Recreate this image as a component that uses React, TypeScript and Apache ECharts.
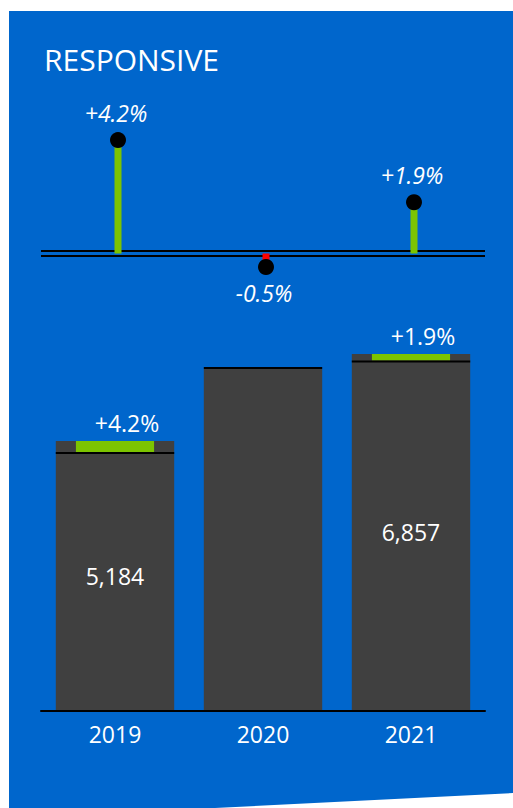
import React, { useEffect, useRef } from "react";
import * as echarts from "echarts";

const categories = ["2019", "2020", "2021"];
const actualValues = [5184, 6570, 6857];
const referenceValues = [4975, 6605, 6729];
const deltaPercents = [4.2, -0.5, 1.9];
const valueLabelShown = [true, false, true];
const deltaLabelShown = [true, false, true];

const BLUE = "#0066CC";
const GRAY = "#404040";
const GREEN = "#7CC400";
const RED = "#FF0000";
const DARK_RED = "#B00000";
const FONT = "'Open Sans', 'Noto Sans', sans-serif";

const fmtPct = (v: number) => (v > 0 ? "+" : "") + v.toFixed(1) + "%";

export default function App() {
  const ref = useRef<HTMLDivElement>(null);

  useEffect(() => {
    if (!ref.current) return;
    const chart = echarts.init(ref.current, null, { renderer: "svg" });

    const option: any = {
      animation: false,
      backgroundColor: "transparent",
      graphic: [
        {
          type: "polygon",
          z: -1,
          silent: true,
          shape: {
            points: [
              [9, 11],
              [513, 11],
              [513, 793],
              [215, 808],
              [9, 808],
            ],
          },
          style: { fill: BLUE },
        },
        {
          type: "text",
          x: 44,
          y: 59,
          z: 5,
          style: {
            text: "RESPONSIVE",
            fill: "#fff",
            fontSize: 30,
            fontFamily: FONT,
            verticalAlign: "middle",
          },
        },
      ],
      grid: [
        { left: 41, width: 444, top: 118.5, height: 189 },
        { left: 41, width: 444, top: 346.5, height: 364.5 },
      ],
      xAxis: [
        { gridIndex: 0, type: "category", data: categories, show: false },
        {
          gridIndex: 1,
          type: "category",
          data: categories,
          axisLine: { lineStyle: { color: "#000", width: 2 } },
          axisTick: { show: false },
          axisLabel: { color: "#fff", fontSize: 23, fontFamily: FONT, margin: 11 },
          z: 5,
        },
      ],
      yAxis: [
        { gridIndex: 0, type: "value", min: -2, max: 5, show: false },
        { gridIndex: 1, type: "value", min: 0, max: 7000, show: false },
      ],
      series: [
        {
          type: "line",
          xAxisIndex: 0,
          yAxisIndex: 0,
          data: [],
          z: 1,
          silent: true,
          markLine: {
            z: 1,
            silent: true,
            symbol: ["none", "none"],
            label: { show: false },
            data: [
              { yAxis: 0, lineStyle: { color: "#000", width: 7, type: "solid" } },
              { yAxis: 0, lineStyle: { color: BLUE, width: 3, type: "solid" } },
            ],
          },
        },
        {
          type: "custom",
          xAxisIndex: 0,
          yAxisIndex: 0,
          z: 6,
          clip: false,
          data: deltaPercents.map((v, i) => [i, v]),
          renderItem: (params: any, api: any) => {
            const i = api.value(0);
            const v = api.value(1);
            const pt = api.coord([i, v]);
            const zero = api.coord([i, 0]);
            const shift = 3;
            const top = Math.min(pt[1], zero[1]);
            const h = Math.abs(pt[1] - zero[1]);
            return {
              type: "group",
              children: [
                {
                  type: "rect",
                  shape: { x: pt[0] + shift - 3.5, y: top, width: 7, height: h },
                  style: { fill: v >= 0 ? GREEN : RED },
                },
                {
                  type: "circle",
                  shape: { cx: pt[0] + shift, cy: pt[1], r: 8 },
                  style: { fill: "#000" },
                },
                {
                  type: "text",
                  x: pt[0] + 1,
                  y: pt[1] + (v >= 0 ? -27 : 26),
                  style: {
                    text: fmtPct(v),
                    fill: "#fff",
                    fontSize: 23,
                    fontStyle: "italic",
                    fontFamily: FONT,
                    align: "center",
                    verticalAlign: "middle",
                  },
                },
              ],
            };
          },
        },
        {
          type: "bar",
          xAxisIndex: 1,
          yAxisIndex: 1,
          barCategoryGap: "20%",
          itemStyle: { color: GRAY },
          data: actualValues.map((v, i) => ({
            value: v,
            label: { show: valueLabelShown[i] },
          })),
          label: {
            show: true,
            position: "inside",
            color: "#fff",
            fontSize: 23,
            fontFamily: FONT,
            formatter: (p: any) => Number(p.value).toLocaleString("en-US"),
          },
          z: 2,
        },
        {
          type: "custom",
          xAxisIndex: 1,
          yAxisIndex: 1,
          z: 4,
          clip: false,
          data: actualValues.map((v, i) => [i, v, referenceValues[i], deltaPercents[i]]),
          renderItem: (params: any, api: any) => {
            const i = api.value(0);
            const a = api.value(1);
            const r = api.value(2);
            const pct = api.value(3);
            const bw = api.size([1, 0])[0] * 0.8;
            const dw = bw * 0.66;
            const cx = api.coord([i, 0])[0];
            const ya = api.coord([i, a])[1];
            const yr = api.coord([i, r])[1];
            const children: any[] = [
              {
                type: "rect",
                shape: { x: cx - dw / 2, y: Math.min(ya, yr), width: dw, height: Math.abs(ya - yr) },
                style: { fill: a >= r ? GREEN : DARK_RED },
              },
              {
                type: "rect",
                shape: { x: cx - bw / 2, y: yr, width: bw, height: 2 },
                style: { fill: "#000" },
              },
            ];
            if (deltaLabelShown[i]) {
              children.push({
                type: "text",
                x: cx + 12,
                y: Math.min(ya, yr) - 18,
                style: {
                  text: fmtPct(pct),
                  fill: "#fff",
                  fontSize: 23,
                  fontFamily: FONT,
                  align: "center",
                  verticalAlign: "middle",
                },
              });
            }
            return { type: "group", children };
          },
        },
      ],
    };

    chart.setOption(option);
    return () => chart.dispose();
  }, []);

  return (
    <div
      ref={ref}
      style={{ position: "absolute", left: 0, top: 0, width: 513, height: 808 }}
    />
  );
}
